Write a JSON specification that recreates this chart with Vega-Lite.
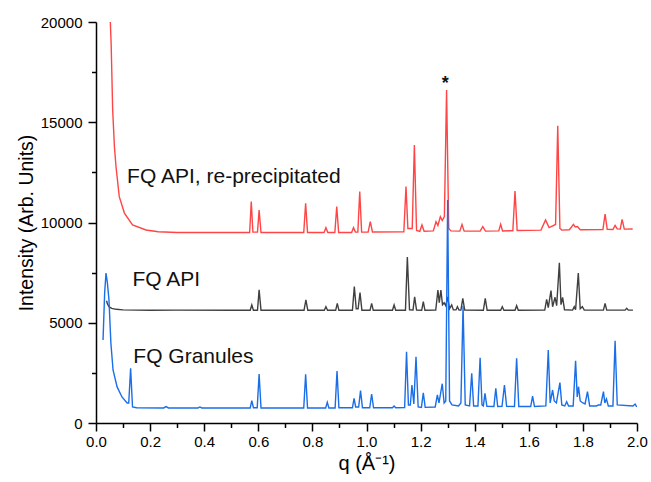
{
  "$schema": "https://vega.github.io/schema/vega-lite/v6.json",
  "width": 541,
  "height": 401,
  "autosize": {"type": "none"},
  "padding": {"left": 96, "top": 22, "right": 14, "bottom": 59},
  "background": "white",
  "config": {"view": {"stroke": null}, "font": "Liberation Sans"},
  "datasets": {
    "reprecip": [
      {"q":0.053,"I":20000},{"q":0.056,"I":18900},{"q":0.0617,"I":15600},{"q":0.068,"I":13800},{"q":0.074,"I":12780},{"q":0.086,"I":11290},{"q":0.105,"I":10470},{"q":0.135,"I":9875},{"q":0.185,"I":9625},{"q":0.23,"I":9540},{"q":0.3,"I":9500},
      {"q":0.568,"I":9500},{"q":0.574,"I":11040},{"q":0.58,"I":9520},{"q":0.597,"I":9520},{"q":0.603,"I":10620},{"q":0.61,"I":9500},
      {"q":0.768,"I":9500},{"q":0.775,"I":10960},{"q":0.782,"I":9500},
      {"q":0.843,"I":9500},{"q":0.85,"I":9740},{"q":0.857,"I":9500},
      {"q":0.883,"I":9500},{"q":0.89,"I":10790},{"q":0.897,"I":9500},
      {"q":0.945,"I":9500},{"q":0.952,"I":9740},{"q":0.959,"I":9520},{"q":0.968,"I":9520},{"q":0.975,"I":11540},{"q":0.982,"I":9520},
      {"q":1.006,"I":9520},{"q":1.014,"I":10040},{"q":1.022,"I":9530},
      {"q":1.138,"I":9540},{"q":1.146,"I":11790},{"q":1.153,"I":9700},{"q":1.169,"I":9700},{"q":1.177,"I":13870},{"q":1.185,"I":9600},
      {"q":1.197,"I":9560},{"q":1.205,"I":9880},{"q":1.213,"I":9560},
      {"q":1.247,"I":9580},{"q":1.257,"I":10040},{"q":1.264,"I":9850},{"q":1.273,"I":10290},{"q":1.28,"I":10100},{"q":1.288,"I":10300},{"q":1.296,"I":16610},{"q":1.304,"I":9700},{"q":1.312,"I":9580},
      {"q":1.345,"I":9570},{"q":1.353,"I":9900},{"q":1.361,"I":9570},
      {"q":1.42,"I":9570},{"q":1.43,"I":9790},{"q":1.44,"I":9570},
      {"q":1.489,"I":9580},{"q":1.496,"I":9910},{"q":1.503,"I":9580},
      {"q":1.541,"I":9590},{"q":1.549,"I":11570},{"q":1.557,"I":9600},
      {"q":1.645,"I":9620},{"q":1.662,"I":10130},{"q":1.675,"I":9750},{"q":1.699,"I":9900},{"q":1.707,"I":14830},{"q":1.715,"I":9700},{"q":1.722,"I":9620},
      {"q":1.75,"I":9640},{"q":1.765,"I":9910},{"q":1.772,"I":9780},{"q":1.78,"I":9800},{"q":1.79,"I":9640},
      {"q":1.874,"I":9650},{"q":1.882,"I":10420},{"q":1.89,"I":9660},
      {"q":1.911,"I":9650},{"q":1.919,"I":9850},{"q":1.927,"I":9680},{"q":1.938,"I":9670},{"q":1.945,"I":10160},{"q":1.953,"I":9670},
      {"q":1.984,"I":9675}
    ],
    "api": [
      {"q":0.039,"I":6100},{"q":0.042,"I":5950},{"q":0.048,"I":5800},{"q":0.058,"I":5720},{"q":0.075,"I":5670},{"q":0.1,"I":5640},{"q":0.2,"I":5620},{"q":0.3,"I":5630},{"q":0.5,"I":5620},
      {"q":0.57,"I":5620},{"q":0.576,"I":5885},{"q":0.582,"I":5620},{"q":0.597,"I":5620},{"q":0.603,"I":6640},{"q":0.61,"I":5620},
      {"q":0.769,"I":5620},{"q":0.776,"I":6135},{"q":0.783,"I":5620},
      {"q":0.844,"I":5620},{"q":0.85,"I":5800},{"q":0.856,"I":5620},
      {"q":0.886,"I":5620},{"q":0.892,"I":5970},{"q":0.898,"I":5620},
      {"q":0.948,"I":5620},{"q":0.955,"I":6800},{"q":0.962,"I":5700},{"q":0.969,"I":5700},{"q":0.976,"I":6500},{"q":0.983,"I":5620},
      {"q":1.013,"I":5620},{"q":1.019,"I":5970},{"q":1.025,"I":5620},
      {"q":1.096,"I":5620},{"q":1.102,"I":5885},{"q":1.108,"I":5620},
      {"q":1.144,"I":5620},{"q":1.151,"I":8280},{"q":1.159,"I":5650},{"q":1.172,"I":5640},{"q":1.178,"I":6290},{"q":1.185,"I":5630},
      {"q":1.204,"I":5620},{"q":1.21,"I":6050},{"q":1.216,"I":5620},
      {"q":1.256,"I":5630},{"q":1.264,"I":6633},{"q":1.269,"I":6000},{"q":1.275,"I":6633},{"q":1.281,"I":5900},{"q":1.287,"I":6000},{"q":1.293,"I":5850},{"q":1.3,"I":6290},{"q":1.307,"I":5700},{"q":1.315,"I":5885},{"q":1.321,"I":5640},{"q":1.331,"I":5640},{"q":1.336,"I":5800},{"q":1.342,"I":5630},{"q":1.349,"I":5630},{"q":1.356,"I":6217},{"q":1.363,"I":5630},
      {"q":1.432,"I":5620},{"q":1.439,"I":6217},{"q":1.446,"I":5620},
      {"q":1.496,"I":5620},{"q":1.502,"I":5800},{"q":1.508,"I":5620},
      {"q":1.549,"I":5620},{"q":1.555,"I":5850},{"q":1.561,"I":5620},
      {"q":1.659,"I":5630},{"q":1.666,"I":6170},{"q":1.672,"I":5750},{"q":1.682,"I":6600},{"q":1.688,"I":5800},{"q":1.697,"I":6270},{"q":1.703,"I":5850},{"q":1.713,"I":7995},{"q":1.719,"I":5900},{"q":1.725,"I":6270},{"q":1.732,"I":5650},
      {"q":1.762,"I":5630},{"q":1.768,"I":5800},{"q":1.773,"I":5650},{"q":1.783,"I":7480},{"q":1.79,"I":5700},{"q":1.798,"I":5800},{"q":1.805,"I":5630},
      {"q":1.876,"I":5630},{"q":1.882,"I":5970},{"q":1.888,"I":5630},
      {"q":1.956,"I":5630},{"q":1.962,"I":5720},{"q":1.968,"I":5630},
      {"q":1.985,"I":5630}
    ],
    "granules": [
      {"q":0.026,"I":4140},{"q":0.032,"I":6500},{"q":0.037,"I":7480},{"q":0.042,"I":7000},{"q":0.048,"I":6135},{"q":0.055,"I":3990},{"q":0.063,"I":2643},{"q":0.078,"I":1800},{"q":0.096,"I":1300},{"q":0.115,"I":1000},{"q":0.121,"I":1000},{"q":0.128,"I":2726},{"q":0.135,"I":800},{"q":0.15,"I":760},
      {"q":0.25,"I":750},{"q":0.259,"I":820},{"q":0.268,"I":750},
      {"q":0.377,"I":750},{"q":0.384,"I":800},{"q":0.391,"I":750},
      {"q":0.57,"I":750},{"q":0.576,"I":1112},{"q":0.582,"I":760},{"q":0.596,"I":760},{"q":0.603,"I":2444},{"q":0.61,"I":750},
      {"q":0.768,"I":750},{"q":0.775,"I":2430},{"q":0.782,"I":750},
      {"q":0.849,"I":750},{"q":0.855,"I":1032},{"q":0.861,"I":750},
      {"q":0.884,"I":750},{"q":0.891,"I":2593},{"q":0.898,"I":760},
      {"q":0.948,"I":760},{"q":0.954,"I":1232},{"q":0.96,"I":800},{"q":0.971,"I":800},{"q":0.978,"I":1612},{"q":0.985,"I":760},
      {"q":1.012,"I":760},{"q":1.019,"I":1446},{"q":1.026,"I":760},
      {"q":1.096,"I":760},{"q":1.102,"I":850},{"q":1.108,"I":760},
      {"q":1.141,"I":770},{"q":1.148,"I":3557},{"q":1.155,"I":900},{"q":1.162,"I":900},{"q":1.168,"I":1895},{"q":1.175,"I":950},{"q":1.183,"I":3308},{"q":1.191,"I":800},
      {"q":1.203,"I":780},{"q":1.21,"I":1500},{"q":1.217,"I":780},
      {"q":1.254,"I":800},{"q":1.262,"I":1397},{"q":1.268,"I":1000},{"q":1.28,"I":1960},{"q":1.287,"I":1000},{"q":1.293,"I":1100},{"q":1.3,"I":11122},{"q":1.307,"I":1100},{"q":1.316,"I":900},
      {"q":1.34,"I":850},{"q":1.349,"I":1000},{"q":1.357,"I":5850},{"q":1.365,"I":900},
      {"q":1.381,"I":850},{"q":1.389,"I":2478},{"q":1.396,"I":850},
      {"q":1.412,"I":850},{"q":1.42,"I":3258},{"q":1.427,"I":900},{"q":1.432,"I":850},{"q":1.438,"I":1480},{"q":1.445,"I":830},
      {"q":1.471,"I":820},{"q":1.478,"I":1730},{"q":1.485,"I":820},
      {"q":1.501,"I":830},{"q":1.51,"I":1895},{"q":1.518,"I":830},
      {"q":1.547,"I":820},{"q":1.555,"I":3225},{"q":1.563,"I":820},
      {"q":1.607,"I":820},{"q":1.614,"I":1346},{"q":1.621,"I":820},
      {"q":1.663,"I":850},{"q":1.672,"I":3641},{"q":1.679,"I":1000},{"q":1.688,"I":1646},{"q":1.694,"I":1100},{"q":1.702,"I":1000},{"q":1.715,"I":2012},{"q":1.722,"I":900},{"q":1.733,"I":850},{"q":1.74,"I":1062},{"q":1.747,"I":850},
      {"q":1.764,"I":850},{"q":1.773,"I":3100},{"q":1.779,"I":1300},{"q":1.784,"I":1810},{"q":1.79,"I":1100},{"q":1.8,"I":1000},{"q":1.808,"I":950},{"q":1.817,"I":1561},{"q":1.825,"I":850},
      {"q":1.85,"I":850},{"q":1.857,"I":900},{"q":1.866,"I":900},{"q":1.876,"I":1561},{"q":1.881,"I":1000},{"q":1.887,"I":1200},{"q":1.894,"I":850},
      {"q":1.911,"I":850},{"q":1.919,"I":4105},{"q":1.927,"I":900},
      {"q":1.985,"I":850},{"q":1.993,"I":948},{"q":1.999,"I":800}
    ],
    "names": [
      {"label":"FQ API, re-precipitated","q":0.115,"I":11970},
      {"label":"FQ API","q":0.135,"I":6833},
      {"label":"FQ Granules","q":0.138,"I":2978}
    ],
    "asterisk": [
      {"label":"*","q":1.291,"I":16900}
    ]
  },
  "encoding": {
    "x": {"field": "q", "type": "quantitative", "scale": {"domain": [0, 2], "nice": false, "zero": false},
      "axis": {"orient": "bottom", "grid": false,
        "values": [0,0.1,0.2,0.3,0.4,0.5,0.6,0.7,0.8,0.9,1.0,1.1,1.2,1.3,1.4,1.5,1.6,1.7,1.8,1.9,2.0],
        "labelExpr": "round(datum.value*10) % 2 == 0 ? format(datum.value, '.1f') : ''",
        "domainColor": "#000000", "domainWidth": 1.5,
        "ticks": true, "tickColor": "#000000", "tickWidth": 1.5,
        "tickSize": {"condition": {"test": "round(datum.value*10) % 2 == 0", "value": 8}, "value": 4.5},
        "labelFontSize": 15, "labelColor": "#000000", "labelPadding": 3,
        "labelFlush": false, "labelOverlap": false,
        "title": "q (Å⁻¹)", "titleFontSize": 20, "titleFontWeight": "normal", "titleColor": "#000000"}},
    "y": {"field": "I", "type": "quantitative", "scale": {"domain": [0, 20000], "nice": false},
      "axis": {"orient": "left", "grid": false,
        "values": [0,2500,5000,7500,10000,12500,15000,17500,20000],
        "labelExpr": "datum.value % 5000 == 0 ? format(datum.value, 'd') : ''",
        "domainColor": "#000000", "domainWidth": 1.5,
        "ticks": true, "tickColor": "#000000", "tickWidth": 1.5,
        "tickSize": {"condition": {"test": "datum.value % 5000 == 0", "value": 8}, "value": 4.5},
        "labelFontSize": 15, "labelColor": "#000000", "labelPadding": 6,
        "labelFlush": false, "labelOverlap": false,
        "title": "Intensity (Arb. Units)", "titleFontSize": 19.5, "titleFontWeight": "normal", "titleColor": "#000000"}}
  },
  "layer": [
    {
      "data": {"name": "reprecip"},
      "mark": {"type": "line", "color": "#ff4545", "strokeWidth": 1.4, "clip": true}
    },
    {
      "data": {"name": "api"},
      "mark": {"type": "line", "color": "#404040", "strokeWidth": 1.4, "clip": true}
    },
    {
      "data": {"name": "granules"},
      "mark": {"type": "line", "color": "#1a6ee8", "strokeWidth": 1.4, "clip": true}
    },
    {
      "data": {"name": "names"},
      "mark": {"type": "text", "align": "left", "baseline": "alphabetic", "fontSize": 21, "color": "#111111", "font": "Liberation Sans"},
      "encoding": {"text": {"field": "label"}}
    },
    {
      "data": {"name": "asterisk"},
      "mark": {"type": "text", "align": "center", "baseline": "middle", "fontSize": 18, "fontWeight": "bold", "color": "#111111", "font": "Liberation Sans"},
      "encoding": {"text": {"field": "label"}}
    }
  ]
}
